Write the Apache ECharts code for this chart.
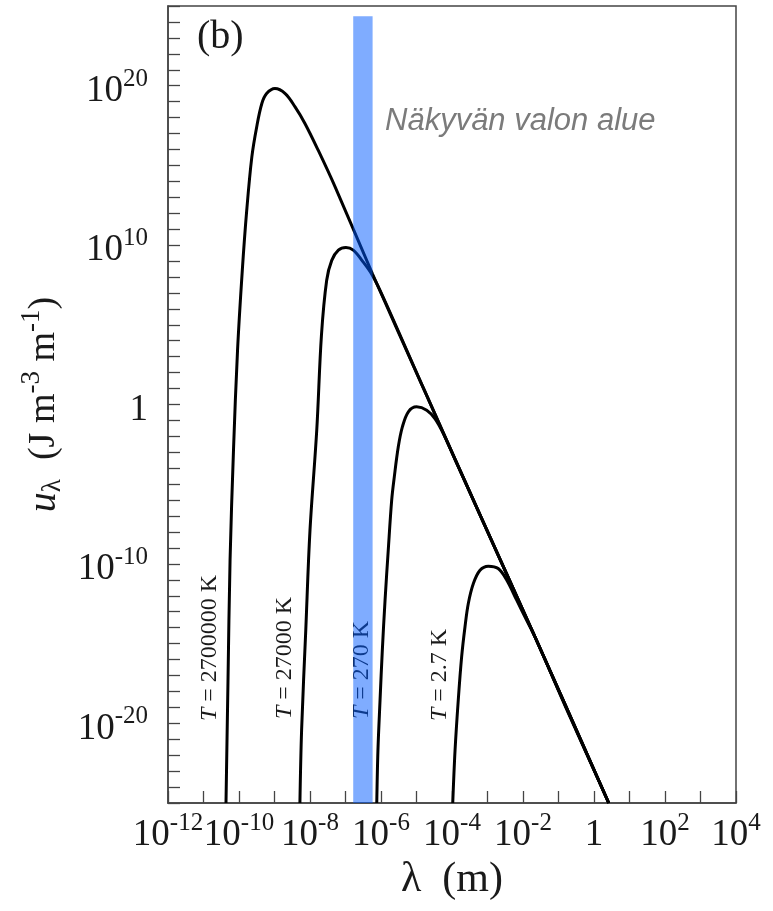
<!DOCTYPE html>
<html style="height: 100%">
<head>
<meta charset="utf-8">
<script src="https://cdn.jsdelivr.net/npm/echarts@6/dist/echarts.min.js"></script>
</head>
<body style="height: 100%; margin: 0; background: #fff">
<div id="container" style="width: 773px; height: 911px"></div>
<script type="text/javascript">
// [wavelength (m), u (J m^-3 m^-1)], one list per temperature
var temperatures = ['2700000', '27000', '270', '2.7'];

var curve2700000 = [
    [4.3e-11, 1e-25], [4.9e-11, 5e-18], [5.6e-11, 1.7e-10], [7.0e-11, 1.4e-3],
    [9.1e-11, 2.6e3], [1.24e-10, 2.7e8], [1.65e-10, 1.5e12], [2.3e-10, 3.4e15],
    [3.15e-10, 2.6e17], [4.4e-10, 7.6e18], [6.0e-10, 3.2e19], [1.03e-9, 6.6e19],
    [2.0e-9, 3.2e19], [3.8e-9, 4.7e18], [7.2e-9, 4.3e17], [1.7e-8, 9e15],
    [5.1e-8, 4.5e13], [5.7e-7, 1.65e8], [1.66e-5, 7.9], [5.4e-4, 2.3e-7],
    [2.2e-2, 2.5e-15], [2.6, 1e-25]
];
var curve27000 = [
    [5.2e-9, 1e-25], [5.8e-9, 3.7e-21], [7.6e-9, 6.9e-15], [1.0e-8, 1.3e-8],
    [1.55e-8, 2.5e-2], [2.1e-8, 2.2e4], [2.95e-8, 6.3e7], [4.1e-8, 1.1e9],
    [6.3e-8, 4.8e9], [1.03e-7, 7.1e9], [1.66e-7, 4.8e9], [2.9e-7, 1.1e9],
    [5.7e-7, 1.3e8], [1.3e-6, 3.0e6], [1.66e-5, 7.9], [5.4e-4, 2.3e-7],
    [2.2e-2, 2.5e-15], [2.6, 1e-25]
];
var curve270 = [
    [7.6e-7, 1e-25], [8.2e-7, 2.0e-22], [9.4e-7, 2.8e-19], [1.09e-6, 3.9e-16],
    [1.3e-6, 5.2e-13], [1.6e-6, 7.2e-10], [2.0e-6, 1.0e-6], [2.37e-6, 2.9e-5],
    [3.07e-6, 2.2e-3], [4.0e-6, 3.9e-2], [5.9e-6, 0.35], [1.01e-5, 0.71],
    [1.94e-5, 0.44], [3.3e-5, 0.13], [5.7e-5, 1.5e-2], [1.22e-4, 3.5e-4],
    [5.4e-4, 2.3e-7], [2.2e-2, 2.5e-15], [2.6, 1e-25]
];
var curve2_7 = [
    [1.05e-4, 1e-25], [1.22e-4, 2.1e-22], [1.5e-4, 2.8e-19], [1.87e-4, 1.5e-16],
    [2.32e-4, 1.1e-14], [2.88e-4, 3.3e-13], [4.0e-4, 5.9e-12], [6.15e-4, 4.0e-11],
    [1.05e-3, 7.2e-11], [2.0e-3, 5.1e-11], [3.5e-3, 9.5e-12], [6.65e-3, 5.3e-13],
    [1.27e-2, 2.9e-14], [2.2e-2, 2.5e-15], [2.1e-1, 2.6e-20], [2.6, 1e-25]
];

// visible light band (m) and how high it is drawn
var visibleBand = [1.65e-7, 5.8e-7];
var bandTop = 2.3e24;

// axis ranges as powers of ten
var xExp = [-12, 4];
var yExp = [-25, 25];

var serif = 'Liberation Serif';
var ink = '#1a1a1a';
var axisColor = '#444';

var tickRich = {
    b: { fontFamily: serif, fontSize: 37, color: ink, padding: [11, 0, 0, 0], verticalAlign: 'top' },
    s: { fontFamily: serif, fontSize: 25, color: ink, padding: [5, 0, 0, 0], verticalAlign: 'top' }
};
function powLabel(v) {
    v = Math.round(v);
    if (v === 0) return '{b|1}';
    return '{b|10}{s|' + v + '}';
}

var dom = document.getElementById('container');
var myChart = echarts.init(dom, null, { renderer: 'canvas' });

function curve(name, data) {
    return {
        name: name,
        type: 'line',
        xAxisIndex: 0,
        yAxisIndex: 0,
        data: data,
        smooth: 0.35,
        symbol: 'none',
        showSymbol: false,
        lineStyle: { color: '#000', width: 3 },
        z: 3
    };
}

var series = [
    curve(temperatures[0], curve2700000),
    curve(temperatures[1], curve27000),
    curve(temperatures[2], curve270),
    curve(temperatures[3], curve2_7)
];
series[3].markArea = {
    silent: true,
    z: 10,
    itemStyle: { color: 'rgba(0, 90, 255, 0.5)', borderWidth: 0 },
    data: [[
        { xAxis: visibleBand[0], yAxis: Math.pow(10, yExp[0]) },
        { xAxis: visibleBand[1], yAxis: bandTop }
    ]]
};

function tLabel(t, x, y) {
    return {
        type: 'text',
        x: x,
        y: y,
        rotation: Math.PI / 2,
        z: 1,
        style: {
            text: '{i|T} = ' + t + ' K',
            font: '24px "Liberation Serif"',
            fill: ink,
            align: 'center',
            verticalAlign: 'middle',
            textAlign: 'center',
            textVerticalAlign: 'middle',
            rich: { i: { fontFamily: serif, fontSize: 24, fontStyle: 'italic', color: ink } }
        }
    };
}

var option = {
    animation: false,
    backgroundColor: '#fff',
    grid: {
        left: 168, top: 6, right: 37, bottom: 108,
        show: true, borderColor: axisColor, borderWidth: 1.5,
        containLabel: false, outerBoundsMode: 'none'
    },
    xAxis: [
        { type: 'log', min: 1e-12, max: 1e4, show: false },
        {
            type: 'value', min: xExp[0], max: xExp[1], interval: 1, position: 'bottom',
            axisLine: { onZero: false, lineStyle: { color: axisColor, width: 1.5 } },
            axisTick: { inside: true, length: 12, lineStyle: { color: axisColor, width: 1.3 } },
            splitLine: { show: false },
            axisLabel: {
                margin: 3, showMinLabel: true, showMaxLabel: true, hideOverlap: false,
                formatter: function (v) { return Math.round(v) % 2 === 0 ? powLabel(v) : ''; },
                rich: tickRich
            },
            name: 'λ  (m)', nameLocation: 'middle', nameGap: 56,
            nameTextStyle: { fontFamily: serif, fontSize: 42, color: ink }
        }
    ],
    yAxis: [
        { type: 'log', min: 1e-25, max: 1e25, show: false },
        {
            type: 'value', min: yExp[0], max: yExp[1], interval: 1, position: 'left',
            axisLine: { onZero: false, lineStyle: { color: axisColor, width: 1.5 } },
            axisTick: { inside: true, length: 12, lineStyle: { color: axisColor, width: 1.3 } },
            splitLine: { show: false },
            axisLabel: {
                margin: 20, hideOverlap: false,
                formatter: function (v) { return Math.round(v) % 10 === 0 ? powLabel(v) : ''; },
                rich: tickRich
            },
            name: '{i|u}{sub|λ}{n|  (J m}{sup|-3}{n| m}{sup|-1}{n|)}',
            nameLocation: 'middle', nameRotate: 90, nameGap: 93,
            nameTextStyle: {
                fontFamily: serif,
                rich: {
                    i: { fontFamily: serif, fontSize: 40, fontStyle: 'italic', color: ink, padding: [12, 0, 0, 0], verticalAlign: 'top' },
                    n: { fontFamily: serif, fontSize: 38, color: ink, padding: [12, 0, 0, 0], verticalAlign: 'top' },
                    sup: { fontFamily: serif, fontSize: 27, color: ink, padding: [6, 0, 0, 0], verticalAlign: 'top' },
                    sub: { fontFamily: serif, fontSize: 27, color: ink, padding: [27, 0, 0, 0], verticalAlign: 'top' }
                }
            }
        }
    ],
    graphic: [
        { type: 'text', left: 197, top: 17, style: { text: '(b)', font: '40px "Liberation Serif"', fill: ink } },
        { type: 'text', left: 385, top: 106, style: { text: 'Näkyvän valon alue', font: 'italic 31px "Liberation Sans"', fill: '#7b7b7b' } },
        tLabel('2700000', 210, 648),
        tLabel('27000', 285, 658),
        tLabel('270', 362, 670),
        tLabel('2.7', 440, 675)
    ],
    series: series
};

myChart.setOption(option);
</script>
</body>
</html>
